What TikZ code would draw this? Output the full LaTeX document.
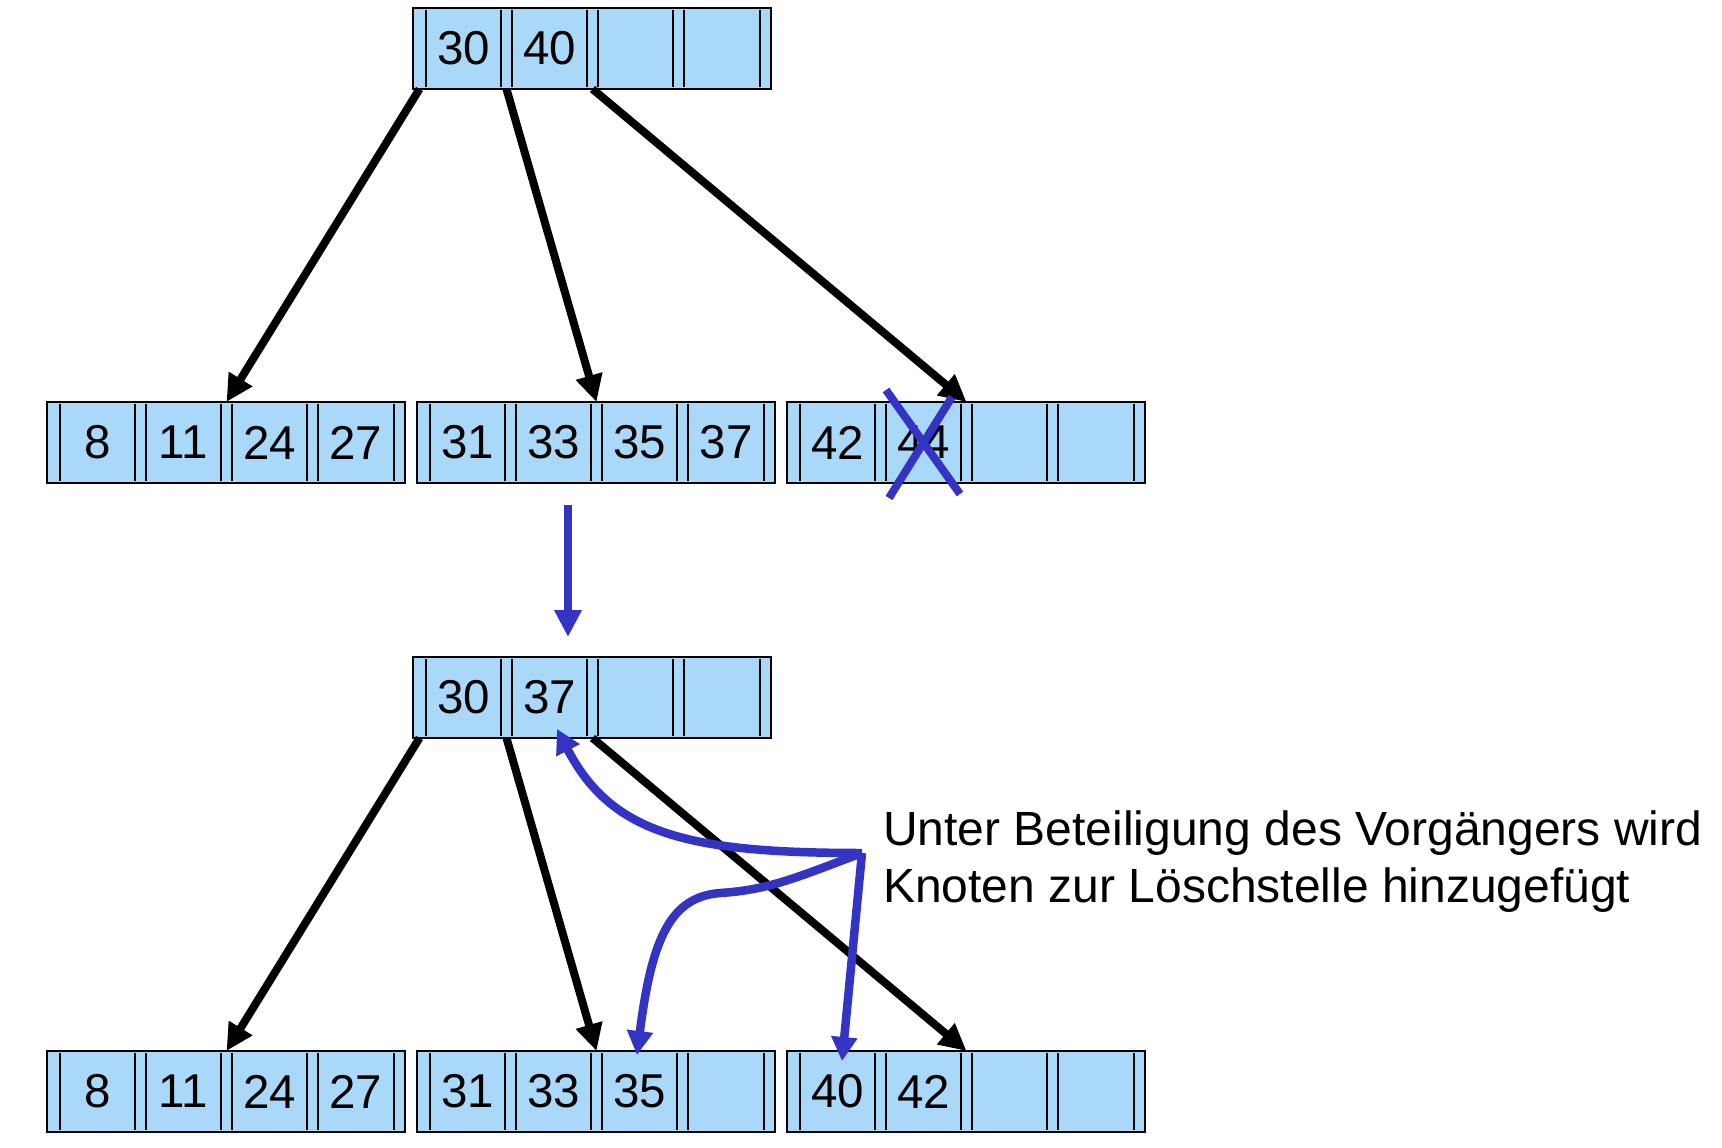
\documentclass[tikz,border=0pt]{standalone}
\usepackage{fontspec}
\setmainfont{Liberation Sans}
\usetikzlibrary{arrows.meta}
\definecolor{nodefill}{RGB}{170,216,249}
\definecolor{annblue}{RGB}{51,51,196}
\tikzset{
  btbox/.style={draw=black, line width=2pt, fill=nodefill, minimum width=358pt, minimum height=81pt, inner sep=0pt, outer sep=0pt, anchor=north west},
  sepline/.style={draw=black, line width=2.2pt},
  keytext/.style={font=\fontsize{47.5}{52}\selectfont, inner sep=0pt, anchor=center},
  blk/.style={draw=black, line width=8pt, -{Triangle[length=27pt,width=26pt]}},
  bluearrow/.style={draw=annblue, line width=8.5pt, -{Triangle[length=24pt,width=25pt]}},
  bluedown/.style={draw=annblue, line width=8.5pt, -{Triangle[length=27pt,width=26pt]}},
  bluecross/.style={draw=annblue, line width=8pt},
  anntext/.style={font=\fontsize{48}{57}\selectfont, inner sep=0pt, anchor=base west},
}
% #1 name, #2 x, #3 y, #4..#7 keys
\newcommand{\btreenode}[7]{%
  \node[btbox] (#1) at (#2,#3) {};
  \foreach \o in {13,88,99,174,185,260,271,347}{
    \draw[sepline] ([xshift=\o pt, yshift=-2pt]#1.north west) -- ([xshift=\o pt, yshift=2pt]#1.south west);
  }
  \node[keytext] (#1-k1) at ([xshift=50.5pt]#1.west) {#4};
  \node[keytext] (#1-k2) at ([xshift=136.5pt]#1.west) {#5};
  \node[keytext] (#1-k3) at ([xshift=222.5pt]#1.west) {#6};
  \node[keytext] (#1-k4) at ([xshift=309pt]#1.west) {#7};
  \coordinate (#1-p0b) at ([xshift=6.5pt]#1.south west);
  \coordinate (#1-p1b) at ([xshift=93.5pt]#1.south west);
  \coordinate (#1-p2b) at ([xshift=179.5pt]#1.south west);
  \coordinate (#1-p2t) at ([xshift=179.5pt]#1.north west);
}
\begin{document}
\begin{tikzpicture}[x=1pt, y=-1pt]
\useasboundingbox (0,0) rectangle (1722,1148);
% first tree
\btreenode{ta}{413}{8}{30}{40}{}{}
\btreenode{la}{47}{402}{8}{11}{24}{27}
\btreenode{lb}{417}{402}{31}{33}{35}{37}
\btreenode{lc}{787}{402}{42}{44}{}{}
\draw[blk] (ta-p0b) -- (la-p2t);
\draw[blk] (ta-p1b) -- (lb-p2t);
\draw[blk] (ta-p2b) -- (lc-p2t);
% cross over 44
\coordinate (x1a) at (886,390);
\coordinate (x1b) at (960,494);
\coordinate (x2a) at (952,397);
\coordinate (x2b) at (889,498);
\draw[bluecross] (x1a) -- (x1b);
\draw[bluecross] (x2a) -- (x2b);
% transition arrow
\coordinate (da) at (568,505);
\coordinate (db) at (568,637);
\draw[bluedown] (da) -- (db);
% second tree
\btreenode{tb}{413}{657}{30}{37}{}{}
\btreenode{ld}{47}{1051}{8}{11}{24}{27}
\btreenode{le}{417}{1051}{31}{33}{35}{}
\btreenode{lf}{787}{1051}{40}{42}{}{}
\draw[blk] (tb-p0b) -- (ld-p2t);
\draw[blk] (tb-p1b) -- (le-p2t);
\draw[blk] (tb-p2b) -- (lf-p2t);
% annotation
\coordinate (src) at (862,853);
\coordinate (t37) at (557,729);
\coordinate (mid) at (720,893);
\coordinate (t35) at (637,1055);
\coordinate (t40) at (842,1061);
\draw[bluearrow] (src) .. controls (690,853) and (612,835) .. (t37);
\draw[bluearrow] (src) .. controls (800,876) and (770,890) .. (mid) .. controls (672,897) and (652,935) .. (t35);
\draw[bluearrow] (src) -- (t40);
\node[anntext] (l1) at (883,845) {Unter Beteiligung des Vorgängers wird};
\node[anntext] (l2) at (883,902) {Knoten zur Löschstelle hinzugefügt};
\end{tikzpicture}
\end{document}
